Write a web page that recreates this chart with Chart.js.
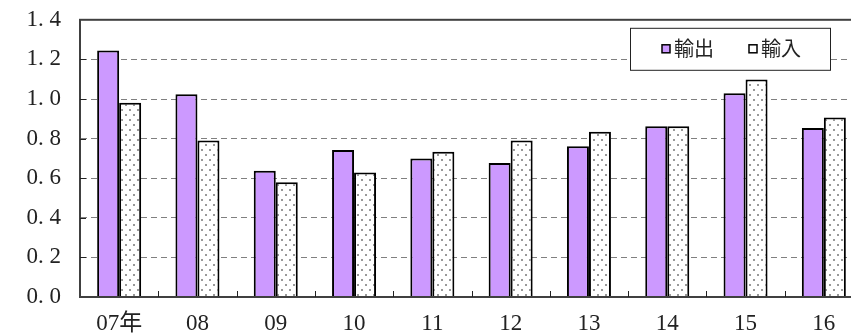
<!DOCTYPE html>
<html>
<head>
<meta charset="utf-8">
<script src="https://cdn.jsdelivr.net/npm/chart.js@4"></script>
<style>
  html, body { margin: 0; padding: 0; background: #fff; overflow: hidden; }
  #wrap { position: relative; top: -13px; width: 864px; height: 349px; }
</style>
</head>
<body>
<div id="wrap"><canvas id="myChart"></canvas></div>
<script>
// dados
const anos = ['07年', '08', '09', '10', '11', '12', '13', '14', '15', '16'];
const exportacao = [1.245, 1.024, 0.638, 0.743, 0.700, 0.677, 0.761, 0.863, 1.029, 0.853];
const importacao = [0.981, 0.790, 0.580, 0.629, 0.733, 0.790, 0.834, 0.863, 1.098, 0.907];
const nomesSeries = ['輸出', '輸入'];

const serif = '"Liberation Serif", "Noto Sans CJK JP", serif';
const gothic = '"Noto Sans CJK JP", sans-serif';

// padrão pontilhado
function padraoPontos() {
    const c = document.createElement('canvas');
    c.width = 8; c.height = 10;
    const g = c.getContext('2d');
    g.fillStyle = '#fff';
    g.fillRect(0, 0, 8, 10);
    g.fillStyle = '#999';
    g.fillRect(1, 2, 2, 2);
    g.fillRect(5, 7, 2, 2);
    return g.createPattern(c, 'repeat');
}

const ctx = document.getElementById('myChart');

// moldura, marcas e legenda
const extras = {
    id: 'extras',
    afterDatasetsDraw(chart) {
        const g = chart.ctx;
        const a = chart.chartArea;
        const x = chart.scales.x;
        const y = chart.scales.y;
        g.save();
        g.strokeStyle = '#404040';
        g.lineWidth = 2;
        g.strokeRect(a.left, a.top, a.right - a.left, a.bottom - a.top);
        g.lineWidth = 1;
        g.strokeStyle = '#222';
        for (let i = 0; i < anos.length - 1; i++) {
            let px = Math.round((x.getPixelForValue(i) + x.getPixelForValue(i + 1)) / 2) + 0.5;
            g.beginPath();
            g.moveTo(px, a.bottom);
            g.lineTo(px, a.bottom - 6);
            g.stroke();
        }
        for (let v = 0.2; v < 1.39; v += 0.2) {
            let py = Math.round(y.getPixelForValue(v)) + 0.5;
            g.beginPath();
            g.moveTo(a.left, py);
            g.lineTo(a.left + 6, py);
            g.stroke();
        }
        // legenda (relativa ao topo da área)
        const ly = a.top + 8;
        g.fillStyle = '#fff';
        g.fillRect(630, ly, 200, 42);
        g.strokeStyle = '#222';
        g.lineWidth = 1;
        g.strokeRect(630.5, ly + 0.5, 200, 42);
        const ds = chart.data.datasets;
        const posX = [662, 749];
        g.font = '20px ' + gothic;
        g.textBaseline = 'middle';
        ds.forEach((d, i) => {
            g.fillStyle = d.legendColor;
            g.fillRect(posX[i], ly + 17, 8, 8);
            g.strokeStyle = '#000';
            g.lineWidth = 1.5;
            g.strokeRect(posX[i], ly + 17, 8, 8);
            g.fillStyle = '#222';
            g.fillText(d.label, posX[i] + 12, ly + 21);
        });
        g.restore();
    }
};

new Chart(ctx, {
    type: 'bar',
    data: {
        labels: anos,
        datasets: [{
            label: nomesSeries[0],
            data: exportacao,
            backgroundColor: '#cc99ff',
            legendColor: '#cc99ff',
            borderColor: '#000',
            borderWidth: 2
        }, {
            label: nomesSeries[1],
            data: importacao,
            backgroundColor: padraoPontos(),
            legendColor: '#fff',
            borderColor: '#000',
            borderWidth: 2
        }]
    },
    options: {
        responsive: true,
        maintainAspectRatio: false,
        animation: false,
        layout: { padding: { top: 7, right: 1, left: 0, bottom: 0 } },
        datasets: { bar: { categoryPercentage: 0.562, barPercentage: 1.0 } },
        plugins: {
            legend: { display: false },
            tooltip: { enabled: false }
        },
        scales: {
            x: {
                grid: { display: false, drawTicks: false },
                border: { display: true, color: '#404040', width: 2 },
                ticks: { color: '#222', padding: 13, font: { family: serif, size: 23 } },
                afterFit(s) { s.height = 39; }
            },
            y: {
                min: 0,
                max: 1.4,
                grid: {
                    drawTicks: false,
                    color: c => (c.tick.value > 0.01 && c.tick.value < 1.39) ? '#808080' : 'rgba(0,0,0,0)'
                },
                border: { display: true, color: '#404040', width: 2, dash: [6, 4] },
                ticks: {
                    stepSize: 0.2,
                    padding: 19,
                    color: '#222',
                    font: { family: serif, size: 23 },
                    callback: v => v.toFixed(1).replace('.', '. ')
                },
                afterFit(s) { s.width = 80; }
            }
        }
    },
    plugins: [extras]
});
</script>
</body>
</html>
